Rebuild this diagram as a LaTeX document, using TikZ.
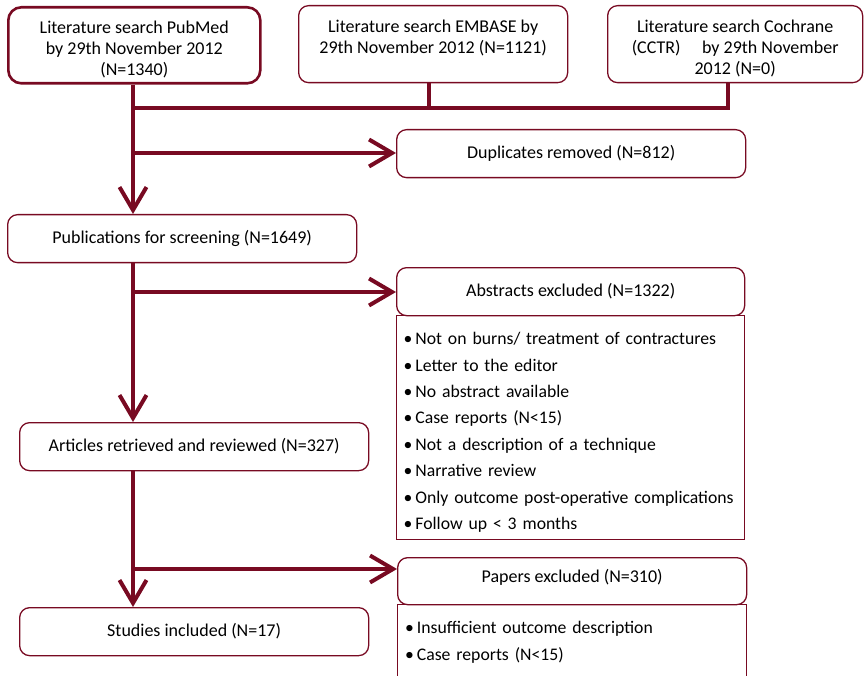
\documentclass[tikz,border=0pt]{standalone}
\usepackage{fontspec}
\setmainfont{Carlito}
\usetikzlibrary{arrows.meta}
\definecolor{maroon}{RGB}{120,10,34}
\begin{document}
\begin{tikzpicture}[x=1pt,y=-1pt,
  font=\fontsize{18pt}{21pt}\selectfont,
  box/.style={draw=maroon, line width=1.3pt, rounded corners=10pt, anchor=north west, inner sep=0pt, align=center},
  listbox/.style={draw=maroon, line width=1.3pt, anchor=north west, inner xsep=7pt, inner ysep=0pt,
    text width=334pt, align=left, text height=29pt, font=\fontsize{17.7pt}{26.4pt}\selectfont},
  flow/.style={draw=maroon, line width=4pt},
  arr/.style={flow, -{Straight Barb[length=23pt,width=27pt]}},
]
\useasboundingbox (0,0) rectangle (864,676);
\clip (0,0) rectangle (864,676);

% top boxes
\node[box, line width=2.6pt, rounded corners=13pt, minimum width=252pt, minimum height=76pt,
      text height=68pt, text depth=8pt] (pubmed) at (7,6)
  {Literature search PubMed\\by 29th November 2012\\(N=1340)};
\node[box, minimum width=269pt, minimum height=77pt, text height=48pt, text depth=29pt] (embase) at (298,5)
  {Literature search EMBASE by\\29th November 2012 (N=1121)};
\node[box, minimum width=255pt, minimum height=77pt, text height=69pt, text depth=8pt] (cochrane) at (607,5)
  {Literature search Cochrane\\(CCTR)\hspace{1.2em}by 29th November\\2012 (N=0)};

% right column
\node[box, minimum width=349pt, minimum height=48pt] (dup) at (396,129) {Duplicates removed (N=812)};
\node[box, minimum width=348pt, minimum height=48pt] (abs) at (396,267) {Abstracts excluded (N=1322)};
\node[listbox, minimum width=348pt, text depth=195pt] (list1) at (396,315)
  {\hyphenpenalty=10000 •\,Not on burns/ treatment of contractures\\
   •\,Letter to the editor\\
   •\,No abstract available\\
   •\,Case reports (N<15)\\
   •\,Not a description of a technique\\
   •\,Narrative review\\
   •\,Only outcome post-operative complications\\
   •\,Follow up < 3 months};
\node[box, minimum width=349pt, minimum height=47pt, text height=25pt, text depth=22pt] (papers) at (397,557) {Papers excluded (N=310)};
\node[listbox, minimum width=349pt, text depth=100pt] (list2) at (397,604)
  {•\,Insufficient outcome description\\
   •\,Case reports (N<15)};

% left column
\node[box, minimum width=349pt, minimum height=48pt] (pub) at (7,214) {Publications for screening (N=1649)};
\node[box, minimum width=349pt, minimum height=48pt] (art) at (19,422) {Articles retrieved and reviewed (N=327)};
\node[box, minimum width=349pt, minimum height=48pt] (stu) at (19,607) {Studies included (N=17)};

% connectors
\coordinate (spine) at (133,0);
\coordinate (j1) at (133,108);
\coordinate (b1) at (133,153);
\coordinate (b2) at (133,292);
\coordinate (b3) at (133,569);

\draw[flow] ([xshift=-4pt]embase.south) -- ([xshift=-4pt]embase.south |- j1);
\draw[flow] ([xshift=-7pt]cochrane.south) |- (j1);
\draw[arr] (pubmed.south -| spine) -- (pub.north -| spine);
\draw[arr] (b1) -- (b1 -| dup.west);
\draw[arr] (pub.south -| spine) -- (art.north -| spine);
\draw[arr] (b2) -- (b2 -| abs.west);
\draw[arr] (art.south -| spine) -- (stu.north -| spine);
\draw[arr] (b3) -- (b3 -| papers.west);
\end{tikzpicture}
\end{document}
